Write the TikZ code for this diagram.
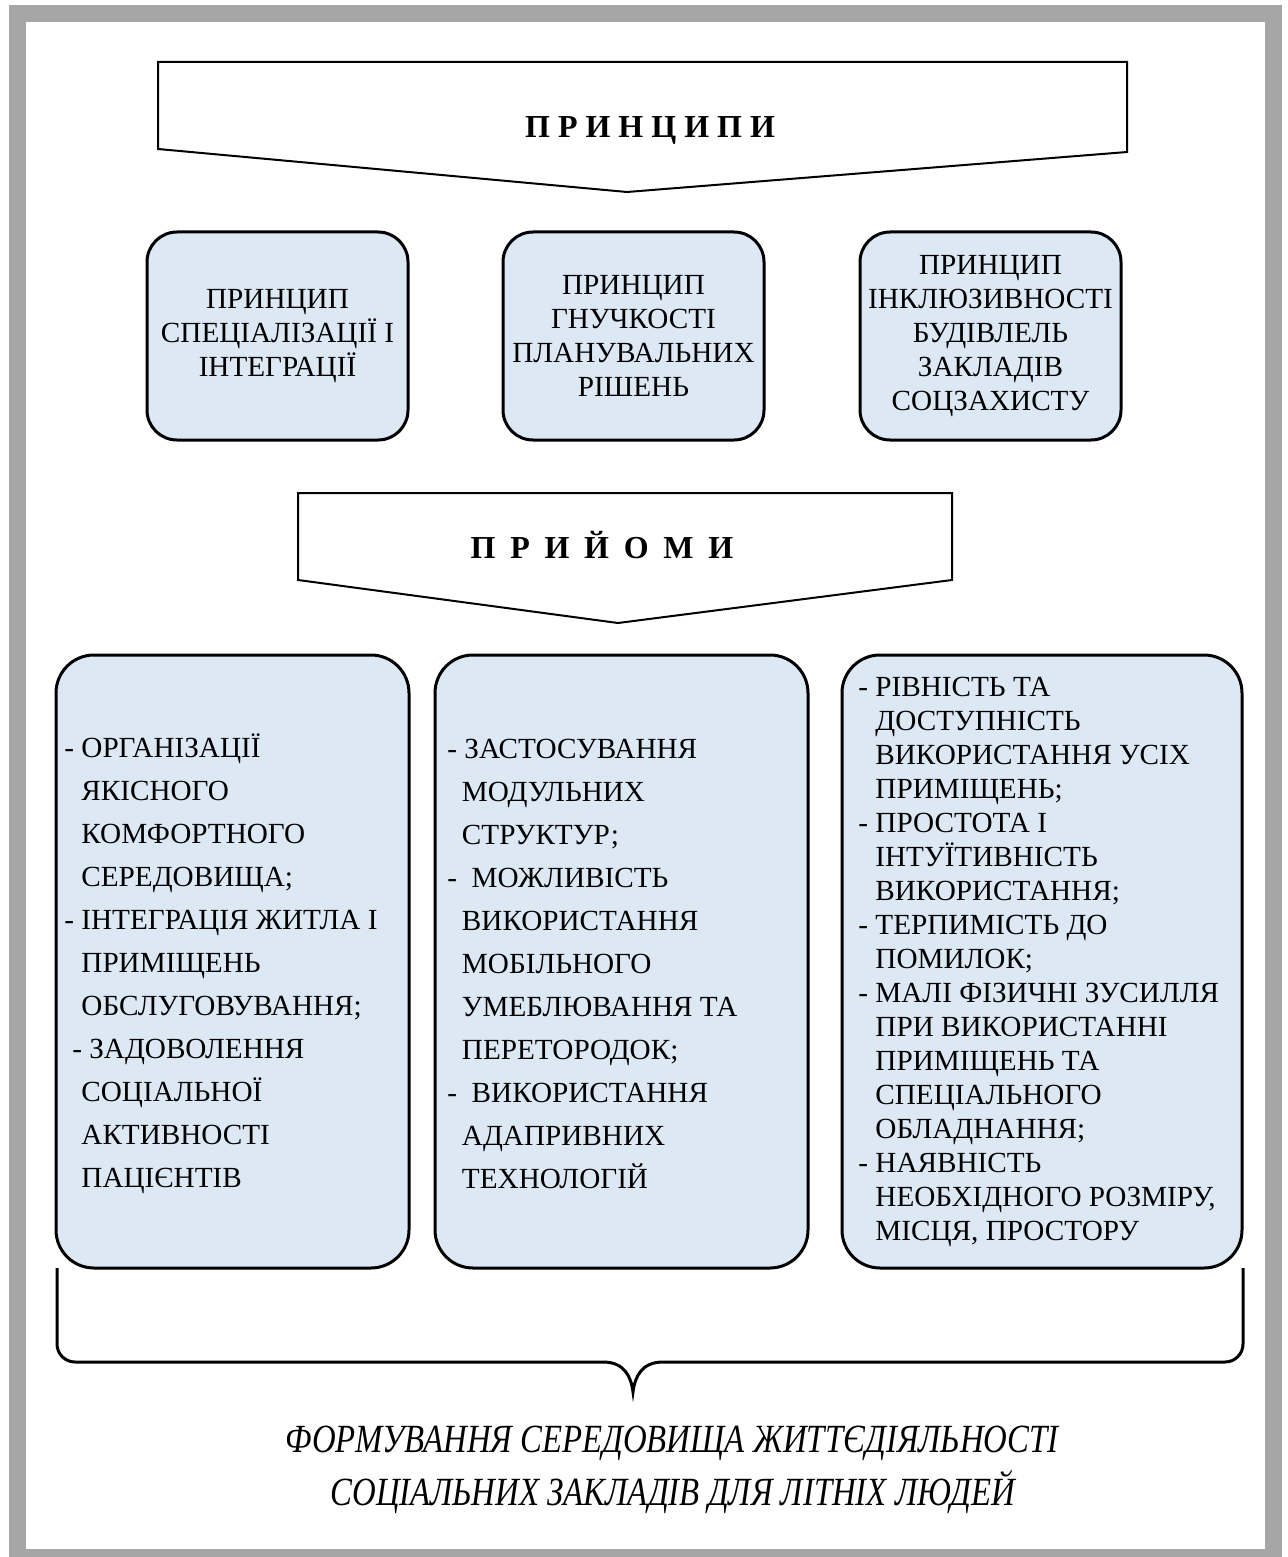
\documentclass[tikz,border=0pt]{standalone}
\usepackage{fontspec}
\setmainfont{Liberation Serif}
\newfontfamily\condfont[FakeStretch=0.82]{Liberation Serif}
\definecolor{boxfill}{RGB}{221,232,245}
\definecolor{framegray}{RGB}{166,166,166}
\newcommand\ind{\hphantom{- }}
\tikzset{
  topbox/.style={draw=black, line width=1.5pt, fill=boxfill, rounded corners=15pt,
    minimum width=130.5pt, minimum height=104pt, align=center, inner sep=0pt,
    font=\fontsize{14.6}{17}\selectfont},
  lowbox/.style={draw=black, line width=1.5pt, fill=boxfill, rounded corners=19pt,
    minimum height=306.5pt, inner sep=0pt},
  lowtext/.style={anchor=west, align=left, inner sep=0pt},
  arrowshape/.style={draw=black, line width=1pt, fill=white, line join=miter},
  headtext/.style={font=\fontsize{16}{19}\selectfont\bfseries, inner sep=0pt},
  bottomtext/.style={font=\fontsize{20}{24}\condfont\itshape, inner sep=0pt},
  bracestyle/.style={draw=black, line width=1.5pt}
}
\begin{document}
\begin{tikzpicture}[x=0.5pt,y=-0.5pt]
\useasboundingbox (0,0) rectangle (1288,1557);
% frame
\fill[framegray] (9,5) rectangle (1282,1557);
\fill[white] (26,22) rectangle (1265,1549);

% top arrow
\draw[arrowshape] (158,62) -- (1127,62) -- (1127,152) -- (627,192) -- (158,149) -- cycle;
\node[headtext] (h1) at (650,130) {П Р И Н Ц И П И};

% principle boxes
\node[topbox] (p1) at (277.5,336) {ПРИНЦИП\\СПЕЦІАЛІЗАЦІЇ І\\ІНТЕГРАЦІЇ};
\node[topbox] (p2) at (633.5,336) {ПРИНЦИП\\ГНУЧКОСТІ\\ПЛАНУВАЛЬНИХ\\РІШЕНЬ};
\node[topbox] (p3) at (990.5,336) {ПРИНЦИП\\ІНКЛЮЗИВНОСТІ\\БУДІВЛЕЛЬ\\ЗАКЛАДІВ\\СОЦЗАХИСТУ};

% second arrow
\draw[arrowshape] (298,493) -- (952,493) -- (952,580) -- (618,623) -- (298,580) -- cycle;
\node[headtext] (h2) at (602,545) {\spaceskip=0.46em\relax П Р И Й О М И};

% method boxes
\node[lowbox, minimum width=176.5pt] (m1) at (232.5,961.5) {};
\node[lowbox, minimum width=186.5pt] (m2) at (621.5,961.5) {};
\node[lowbox, minimum width=200pt] (m3) at (1042,961.5) {};

\node[lowtext, font=\fontsize{14.6}{21.5}\selectfont] (t1) at (64,964) {%
- ОРГАНІЗАЦІЇ\\
\ind ЯКІСНОГО\\
\ind КОМФОРТНОГО\\
\ind СЕРЕДОВИЩА;\\
- ІНТЕГРАЦІЯ ЖИТЛА І\\
\ind ПРИМІЩЕНЬ\\
\ind ОБСЛУГОВУВАННЯ;\\
\hspace*{0.27em}- ЗАДОВОЛЕННЯ\\
\ind СОЦІАЛЬНОЇ\\
\ind АКТИВНОСТІ\\
\ind ПАЦІЄНТІВ};

\node[lowtext, font=\fontsize{14.6}{21.5}\selectfont] (t2) at (447,964) {%
- ЗАСТОСУВАННЯ\\
\hphantom{-\,}МОДУЛЬНИХ\\
\hphantom{-\,}СТРУКТУР;\\
-\hspace*{0.5em}МОЖЛИВІСТЬ\\
\hphantom{-\,}ВИКОРИСТАННЯ\\
\hphantom{-\,}МОБІЛЬНОГО\\
\hphantom{-\,}УМЕБЛЮВАННЯ ТА\\
\hphantom{-\,}ПЕРЕТОРОДОК;\\
-\hspace*{0.5em}ВИКОРИСТАННЯ\\
\hphantom{-\,}АДАПРИВНИХ\\
\hphantom{-\,}ТЕХНОЛОГІЙ};

\node[lowtext, font=\fontsize{14.6}{17}\selectfont] (t3) at (858,962) {%
- РІВНІСТЬ ТА\\
\ind ДОСТУПНІСТЬ\\
\ind ВИКОРИСТАННЯ УСІХ\\
\ind ПРИМІЩЕНЬ;\\
- ПРОСТОТА І\\
\ind ІНТУЇТИВНІСТЬ\\
\ind ВИКОРИСТАННЯ;\\
- ТЕРПИМІСТЬ ДО\\
\ind ПОМИЛОК;\\
- МАЛІ ФІЗИЧНІ ЗУСИЛЛЯ\\
\ind ПРИ ВИКОРИСТАННІ\\
\ind ПРИМІЩЕНЬ ТА\\
\ind СПЕЦІАЛЬНОГО\\
\ind ОБЛАДНАННЯ;\\
- НАЯВНІСТЬ\\
\ind НЕОБХІДНОГО РОЗМІРУ,\\
\ind МІСЦЯ, ПРОСТОРУ};

% brace
\draw[bracestyle] (57,1268) -- (57,1344) arc[start angle=180, end angle=90, radius=18] -- (603,1362)
  .. controls (624,1362) and (631,1376) .. (633,1392)
  .. controls (635,1376) and (642,1362) .. (663,1362)
  -- (1225,1362) arc[start angle=90, end angle=0, radius=18] -- (1243,1268);

% conclusion
\node[bottomtext] (c1) at (672,1443) {ФОРМУВАННЯ СЕРЕДОВИЩА ЖИТТЄДІЯЛЬНОСТІ};
\node[bottomtext] (c2) at (673,1492) {СОЦІАЛЬНИХ ЗАКЛАДІВ ДЛЯ ЛІТНІХ ЛЮДЕЙ};
\end{tikzpicture}
\end{document}
